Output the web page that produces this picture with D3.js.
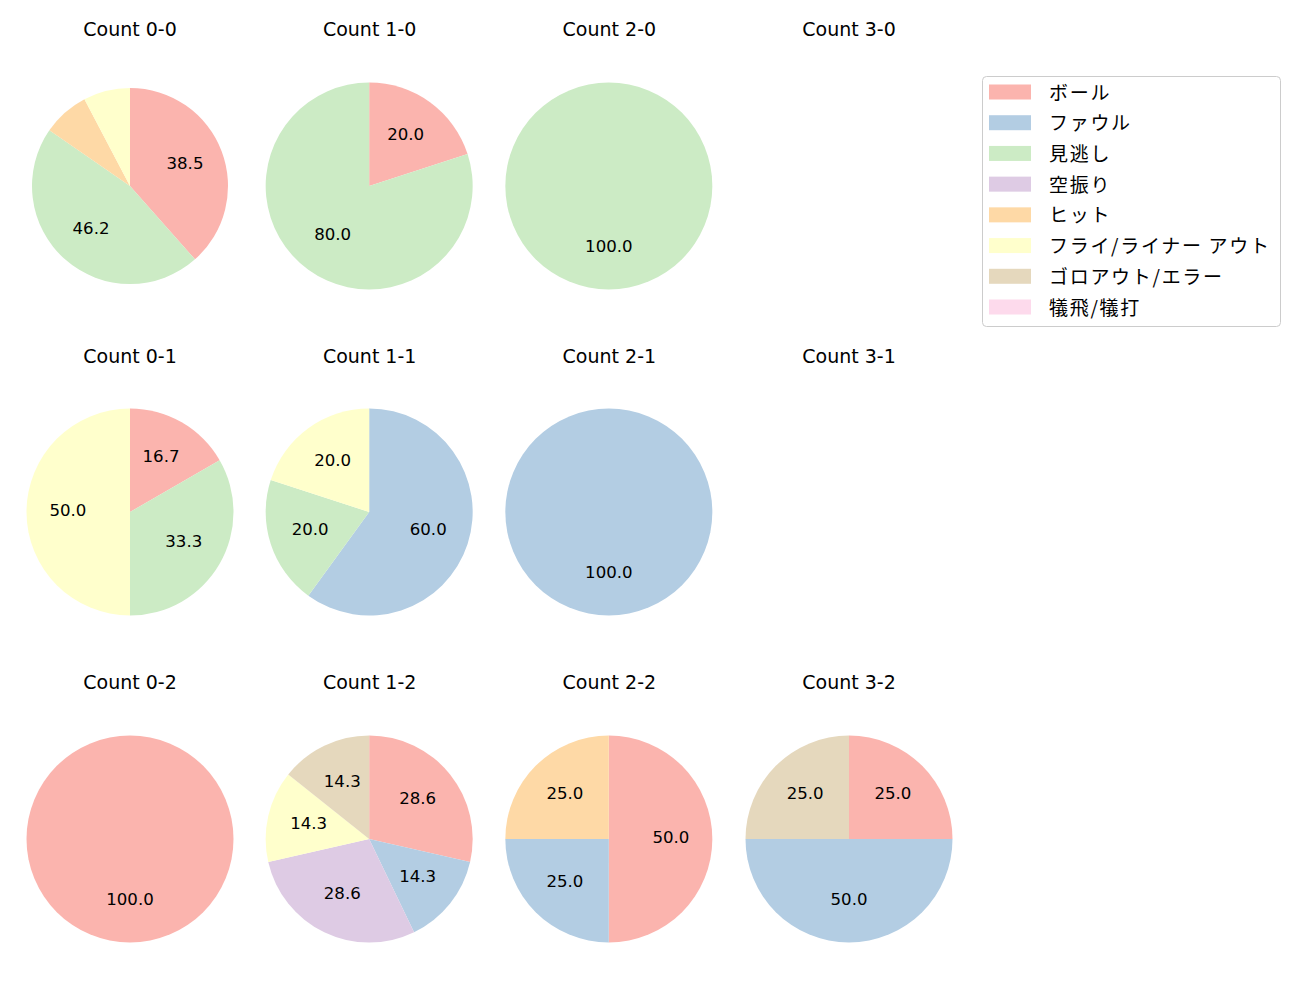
<!DOCTYPE html>
<html><head><meta charset="utf-8">
<script src="https://cdn.jsdelivr.net/npm/d3@7"></script>
<style>body{margin:0;background:#fff}text{font-family:"DejaVu Sans","Noto Sans CJK JP",sans-serif}.lg{font-family:"Noto Sans CJK JP",sans-serif}</style>
</head><body>
<svg id="c" width="1300" height="1000"></svg>
<script>
const categories = ["ボール","ファウル","見逃し","空振り","ヒット","フライ/ライナー アウト","ゴロアウト/エラー","犠飛/犠打"];
const colors = ["#fbb4ae","#b3cde3","#ccebc5","#decbe4","#fed9a6","#ffffcc","#e5d8bd","#fddaec"];
const titles = ["Count 0-0","Count 1-0","Count 2-0","Count 3-0","Count 0-1","Count 1-1","Count 2-1","Count 3-1","Count 0-2","Count 1-2","Count 2-2","Count 3-2"];
const c00 = [5,0,6,0,1,1,0,0];
const c10 = [1,0,4,0,0,0,0,0];
const c20 = [0,0,1,0,0,0,0,0];
const c30 = [0,0,0,0,0,0,0,0];
const c01 = [1,0,2,0,0,3,0,0];
const c11 = [0,3,1,0,0,1,0,0];
const c21 = [0,1,0,0,0,0,0,0];
const c31 = [0,0,0,0,0,0,0,0];
const c02 = [1,0,0,0,0,0,0,0];
const c12 = [2,1,0,2,0,1,1,0];
const c22 = [2,1,0,0,1,0,0,0];
const c32 = [1,2,0,0,0,0,1,0];
const counts = [c00,c10,c20,c30,c01,c11,c21,c31,c02,c12,c22,c32];

const svg = d3.select("#c");
const colX = d3.scalePoint().domain([0,1,2,3]).range([130,849]);
const rowY = d3.scalePoint().domain([0,1,2]).range([186,839]);
const titleY = d3.scalePoint().domain([0,1,2]).range([29,682]);
const pie = d3.pie().sort(null).value(d=>d.v).startAngle(0).endAngle(2*Math.PI);

counts.forEach((vals,i)=>{
  const col=i%4,row=Math.floor(i/4);
  const cx=colX(col)+(col===1||col===2?-0.5:0), cy=rowY(row)+(row===1?-0.5:0);
  svg.append("text").attr("x",colX(col)).attr("y",titleY(row)).attr("text-anchor","middle")
    .attr("dominant-baseline","central").attr("font-size",19).attr("fill","#000").text(titles[i]);
  const total=d3.sum(vals);
  if(total===0) return;
  const R = i===0 ? 98 : 103.5;
  const data = vals.map((v,k)=>({v,k})).filter(d=>d.v>0);
  const arcs = pie(data);
  const arc = d3.arc().innerRadius(0).outerRadius(R);
  const g = svg.append("g").attr("transform",`translate(${cx},${cy})`);
  g.selectAll("path").data(arcs).join("path").attr("d",arc).attr("fill",d=>colors[d.data.k]);
  arcs.forEach(a=>{
    const pct=a.data.v/total*100;
    if(pct<10) return;
    const m=(a.startAngle+a.endAngle)/2;
    g.append("text").attr("x",Math.sin(m)*R*0.6).attr("y",-Math.cos(m)*R*0.6-1.5)
      .attr("text-anchor","middle").attr("dominant-baseline","central")
      .attr("font-size",16.6).attr("fill","#000").text(pct.toFixed(1));
  });
});

const lg = svg.append("g");
lg.append("rect").attr("x",982.5).attr("y",76.5).attr("width",298).attr("height",250).attr("rx",4)
  .attr("fill","#fff").attr("stroke","#ccc").attr("stroke-width",1);
const ly = d3.scaleLinear().domain([0,7]).range([92,307]);
categories.forEach((c,k)=>{
  lg.append("rect").attr("x",989).attr("y",ly(k)-7.5).attr("width",42).attr("height",15).attr("fill",colors[k]);
  lg.append("text").attr("class","lg").attr("x",1049).attr("y",ly(k)-1).attr("dominant-baseline","central")
    .attr("font-size",19).attr("letter-spacing",1.7).attr("fill","#000").text(c);
});
</script>
</body></html>
